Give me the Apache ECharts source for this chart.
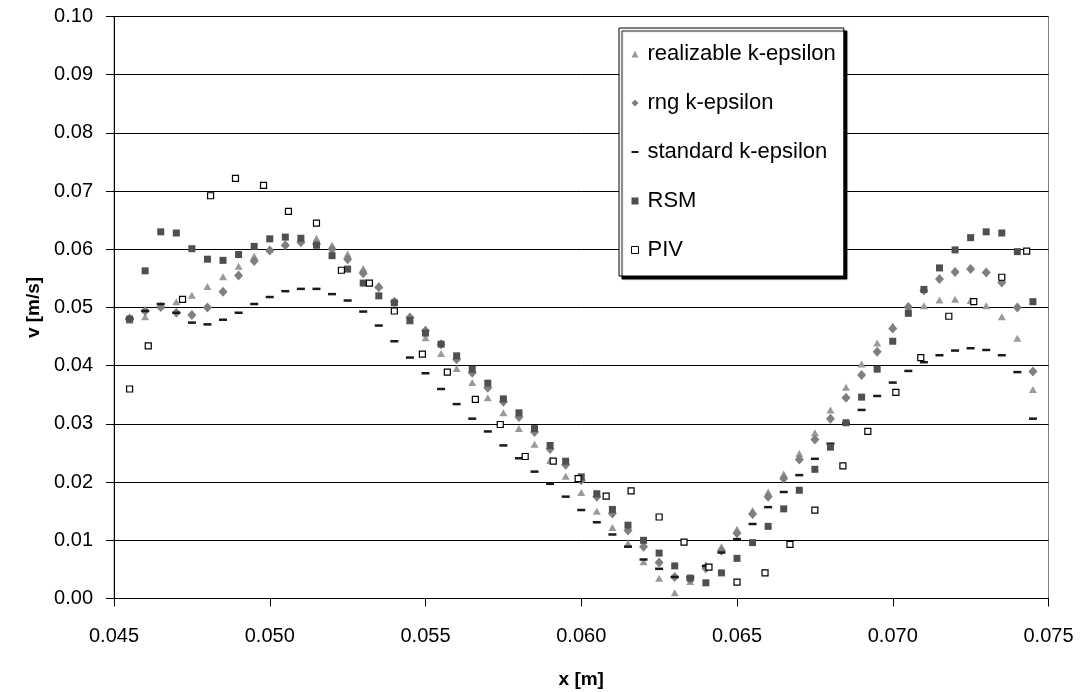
<!DOCTYPE html>
<html>
<head>
<meta charset="utf-8">
<script src="https://cdn.jsdelivr.net/npm/echarts@6/dist/echarts.min.js"></script>
<style>
html,body{margin:0;padding:0;background:#fff;}
#chart{width:1084px;height:692px;}
</style>
</head>
<body>
<div id="chart"></div>
<script>
var seriesNames = ['realizable k-epsilon', 'rng k-epsilon', 'standard k-epsilon', 'RSM', 'PIV'];

var xModel = [0.0455,0.0460,0.0465,0.0470,0.0475,0.0480,0.0485,0.0490,0.0495,0.0500,
  0.0505,0.0510,0.0515,0.0520,0.0525,0.0530,0.0535,0.0540,0.0545,0.0550,
  0.0555,0.0560,0.0565,0.0570,0.0575,0.0580,0.0585,0.0590,0.0595,0.0600,
  0.0605,0.0610,0.0615,0.0620,0.0625,0.0630,0.0635,0.0640,0.0645,0.0650,
  0.0655,0.0660,0.0665,0.0670,0.0675,0.0680,0.0685,0.0690,0.0695,0.0700,
  0.0705,0.0710,0.0715,0.0720,0.0725,0.0730,0.0735,0.0740,0.0745];

var realizable = [0.0478,0.0484,0.0503,0.0510,0.0521,0.0536,0.0553,0.0571,0.0588,0.0600,
  0.0610,0.0616,0.0619,0.0607,0.0592,0.0567,0.0538,0.0510,0.0477,0.0448,
  0.0421,0.0395,0.0371,0.0345,0.0319,0.0292,0.0265,0.0237,0.0210,0.0182,
  0.0150,0.0122,0.0095,0.0063,0.0035,0.0010,0.0029,0.0058,0.0089,0.0119,
  0.0151,0.0183,0.0214,0.0249,0.0285,0.0324,0.0363,0.0403,0.0439,0.0468,
  0.0503,0.0503,0.0513,0.0514,0.0512,0.0503,0.0484,0.0447,0.0359];

var rng = [0.0481,0.0494,0.0501,0.0491,0.0487,0.0500,0.0527,0.0555,0.0580,0.0598,
  0.0607,0.0612,0.0609,0.0600,0.0583,0.0559,0.0535,0.0510,0.0483,0.0460,
  0.0437,0.0411,0.0388,0.0362,0.0338,0.0312,0.0286,0.0257,0.0230,0.0203,
  0.0175,0.0146,0.0117,0.0089,0.0062,0.0037,0.0033,0.0052,0.0082,0.0112,
  0.0145,0.0175,0.0206,0.0239,0.0273,0.0309,0.0345,0.0384,0.0424,0.0464,
  0.0501,0.0529,0.0549,0.0561,0.0566,0.0560,0.0543,0.0500,0.0390];

var standard = [0.0480,0.0494,0.0506,0.0491,0.0474,0.0471,0.0479,0.0491,0.0506,0.0518,
  0.0528,0.0532,0.0532,0.0523,0.0512,0.0493,0.0469,0.0442,0.0414,0.0387,
  0.0360,0.0334,0.0309,0.0287,0.0263,0.0241,0.0218,0.0197,0.0175,0.0152,
  0.0131,0.0110,0.0089,0.0067,0.0051,0.0037,0.0037,0.0056,0.0079,0.0102,
  0.0128,0.0157,0.0183,0.0212,0.0240,0.0266,0.0301,0.0324,0.0348,0.0371,
  0.0391,0.0406,0.0418,0.0426,0.0430,0.0427,0.0418,0.0389,0.0309];

var rsm = [0.0480,0.0563,0.0630,0.0628,0.0601,0.0583,0.0581,0.0591,0.0605,0.0618,
  0.0621,0.0619,0.0607,0.0589,0.0566,0.0542,0.0520,0.0508,0.0478,0.0456,
  0.0437,0.0417,0.0394,0.0370,0.0343,0.0319,0.0292,0.0263,0.0236,0.0209,
  0.0180,0.0153,0.0126,0.0100,0.0078,0.0056,0.0035,0.0027,0.0044,0.0069,
  0.0096,0.0124,0.0154,0.0186,0.0222,0.0260,0.0302,0.0346,0.0394,0.0442,
  0.0490,0.0531,0.0568,0.0599,0.0620,0.0630,0.0628,0.0596,0.0510];

var xPIV = [0.0455,0.0461,0.0472,0.0481,0.0489,0.0498,0.0506,0.0515,0.0523,0.0532,
  0.0540,0.0549,0.0557,0.0566,0.0574,0.0582,0.0591,0.0599,0.0608,0.0616,
  0.0625,0.0633,0.0641,0.0650,0.0659,0.0667,0.0675,0.0684,0.0692,0.0701,
  0.0709,0.0718,0.0726,0.0735,0.0743];

var piv = [0.0360,0.0434,0.0514,0.0692,0.0722,0.0710,0.0665,0.0645,0.0564,0.0542,
  0.0494,0.0420,0.0389,0.0342,0.0299,0.0244,0.0236,0.0206,0.0176,0.0185,
  0.0140,0.0097,0.0054,0.0028,0.0044,0.0093,0.0152,0.0228,0.0287,0.0354,
  0.0414,0.0485,0.0510,0.0552,0.0597];

function pairs(xs, ys) {
  var out = [];
  for (var i = 0; i < ys.length; i++) out.push([xs[i], ys[i]]);
  return out;
}

var FONT = '"Liberation Sans", Arial, sans-serif';
var dashPath = 'path://M0,0H10V3H0Z';

var chart = echarts.init(document.getElementById('chart'), null, {renderer: 'canvas'});
chart.setOption({
  animation: false,
  backgroundColor: '#ffffff',
  grid: {
    left: 114, right: 35.5, top: 16.5, bottom: 93.5,
    outerBoundsMode: 'none', containLabel: false,
    show: true, borderColor: '#808080', borderWidth: 1, backgroundColor: 'transparent'
  },
  xAxis: {
    type: 'value', min: 0.045, max: 0.075, interval: 0.005,
    name: 'x [m]', nameLocation: 'middle', nameGap: 72,
    nameTextStyle: {fontFamily: FONT, fontSize: 19, fontWeight: 'bold', color: '#000'},
    axisLine: {show: true, onZero: false, lineStyle: {color: '#000', width: 1}},
    axisTick: {show: true, inside: false, length: 8, lineStyle: {color: '#000'}},
    axisLabel: {fontFamily: FONT, fontSize: 20, color: '#000', margin: 28,
      formatter: function (v) { return v.toFixed(3); }},
    splitLine: {show: false}
  },
  yAxis: {
    type: 'value', min: 0, max: 0.1, interval: 0.01,
    name: 'v [m/s]', nameLocation: 'middle', nameGap: 70, nameRotate: 90,
    nameTextStyle: {fontFamily: FONT, fontSize: 19, fontWeight: 'bold', color: '#000'},
    axisLine: {show: true, lineStyle: {color: '#000', width: 1}},
    axisTick: {show: true, inside: false, length: 8, lineStyle: {color: '#000'}},
    axisLabel: {fontFamily: FONT, fontSize: 20, color: '#000', margin: 21,
      formatter: function (v) { return v.toFixed(2); }},
    splitLine: {show: true, lineStyle: {color: '#000', width: 1}}
  },
  legend: {
    orient: 'vertical',
    left: 619, top: 28,
    padding: [14, 8, 14, 12],
    itemGap: 25,
    itemWidth: 7, itemHeight: 7,
    backgroundColor: '#fff',
    borderColor: '#000', borderWidth: 1,
    shadowColor: '#000', shadowBlur: 1, shadowOffsetX: 3, shadowOffsetY: 3,
    textStyle: {fontFamily: FONT, fontSize: 22, color: '#000', lineHeight: 24, padding: [0, 0, 0, 4]},
    data: [
      {name: seriesNames[0], icon: 'triangle', itemStyle: {color: '#9a9a9a'}},
      {name: seriesNames[1], icon: 'diamond', itemStyle: {color: '#7f7f7f'}},
      {name: seriesNames[2], icon: dashPath, itemStyle: {color: '#1a1a1a'}},
      {name: seriesNames[3], icon: 'rect', itemStyle: {color: '#4f4f4f'}},
      {name: seriesNames[4], icon: 'rect', itemStyle: {color: '#fff', borderColor: '#000', borderWidth: 1}}
    ]
  },
  series: [
    {name: seriesNames[0], type: 'scatter', symbol: 'triangle', symbolSize: [8, 7],
     itemStyle: {color: '#9a9a9a', opacity: 1}, data: pairs(xModel, realizable)},
    {name: seriesNames[1], type: 'scatter', symbol: 'diamond', symbolSize: [9, 10],
     itemStyle: {color: '#7f7f7f', opacity: 1}, data: pairs(xModel, rng)},
    {name: seriesNames[2], type: 'scatter', symbol: 'rect', symbolSize: [8, 2.5],
     itemStyle: {color: '#1a1a1a', opacity: 1}, data: pairs(xModel, standard)},
    {name: seriesNames[3], type: 'scatter', symbol: 'rect', symbolSize: [7, 7],
     itemStyle: {color: '#4f4f4f', opacity: 1}, data: pairs(xModel, rsm)},
    {name: seriesNames[4], type: 'scatter', symbol: 'rect', symbolSize: [6, 6],
     itemStyle: {color: '#ffffff', borderColor: '#000', borderWidth: 1.2, opacity: 1}, data: pairs(xPIV, piv)}
  ]
});
</script>
</body>
</html>
